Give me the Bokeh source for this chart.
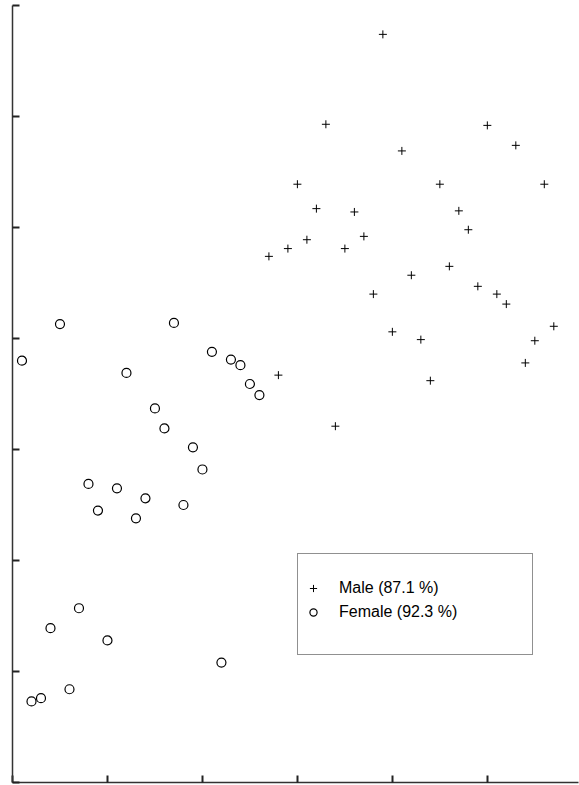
from bokeh.plotting import figure
from bokeh.models import Legend, LegendItem, FixedTicker, CustomJSTickFormatter, Range1d
from bokeh.embed import file_html
from bokeh.resources import INLINE

# Female observations: sample index and value
female_idx = [1, 2, 3, 4, 5, 6, 7, 8, 9, 10, 11, 12, 13,
              14, 15, 16, 17, 18, 19, 20, 21, 22, 23, 24, 25, 26]
female_y = [3.80, 0.73, 0.76, 1.39, 4.13, 0.84, 1.57, 2.69, 2.45, 1.28, 2.65, 3.69, 2.38,
            2.56, 3.37, 3.19, 4.14, 2.50, 3.02, 2.82, 3.88, 1.08, 3.81, 3.76, 3.59, 3.49]

# Male observations: sample index and value
male_idx = [27, 28, 29, 30, 31, 32, 33, 34, 35, 36, 37, 38, 39, 40, 41, 42,
            43, 44, 45, 46, 47, 48, 49, 50, 51, 52, 53, 54, 55, 56, 57]
male_y = [4.74, 3.67, 4.81, 5.39, 4.89, 5.17, 5.93, 3.21, 4.81, 5.14, 4.92, 4.40, 6.74, 4.06, 5.69, 4.57,
          3.99, 3.62, 5.39, 4.65, 5.15, 4.98, 4.47, 5.92, 4.40, 4.31, 5.74, 3.78, 3.98, 5.39, 4.11]

legend_labels = ["Male (87.1 %)", "Female (92.3 %)"]
x_ticks = [0, 10, 20, 30, 40, 50]
y_ticks = [0, 1, 2, 3, 4, 5, 6, 7]

p = figure(width=579, height=785, output_backend="svg", toolbar_location=None,
           x_range=Range1d(0, 59.6), y_range=Range1d(0, 7),
           min_border_left=12, min_border_right=1, min_border_top=5, min_border_bottom=3)
p.outline_line_color = None
p.xgrid.visible = False
p.ygrid.visible = False
p.background_fill_color = "white"

empty = CustomJSTickFormatter(code="return ''")
for ax, ticks in ((p.xaxis[0], x_ticks), (p.yaxis[0], y_ticks)):
    ax.ticker = FixedTicker(ticks=ticks)
    ax.formatter = empty
    ax.major_tick_in = 7
    ax.major_tick_out = 0
    ax.minor_tick_in = 0
    ax.minor_tick_out = 0
    ax.major_label_standoff = 0
    ax.axis_line_color = "#333333"
    ax.axis_line_width = 1.5
    ax.major_tick_line_color = "#222222"
    ax.major_tick_line_width = 2
    ax.axis_label = None

m = p.scatter(male_idx, male_y, marker="cross", size=8, line_color="black", line_width=1)
f = p.scatter(female_idx, female_y, marker="circle", size=9, fill_color=None,
              line_color="black", line_width=1.2)

legend = Legend(items=[LegendItem(label=legend_labels[0], renderers=[m]),
                       LegendItem(label=legend_labels[1], renderers=[f]),
                       LegendItem(label=" ", renderers=[])],
                title=" ", title_text_font_size="11px", title_standoff=4,
                location=(285, 127), orientation="vertical",
                padding=6, spacing=0, margin=0,
                glyph_width=18, glyph_height=24, label_height=24,
                label_standoff=17, label_width=187,
                label_text_font="Liberation Sans", label_text_font_size="16px",
                label_text_color="black",
                border_line_color="#222222", border_line_width=1.2,
                background_fill_color="white", background_fill_alpha=1.0)
p.add_layout(legend, "center")

open("out.html", "w").write(file_html(p, INLINE))
